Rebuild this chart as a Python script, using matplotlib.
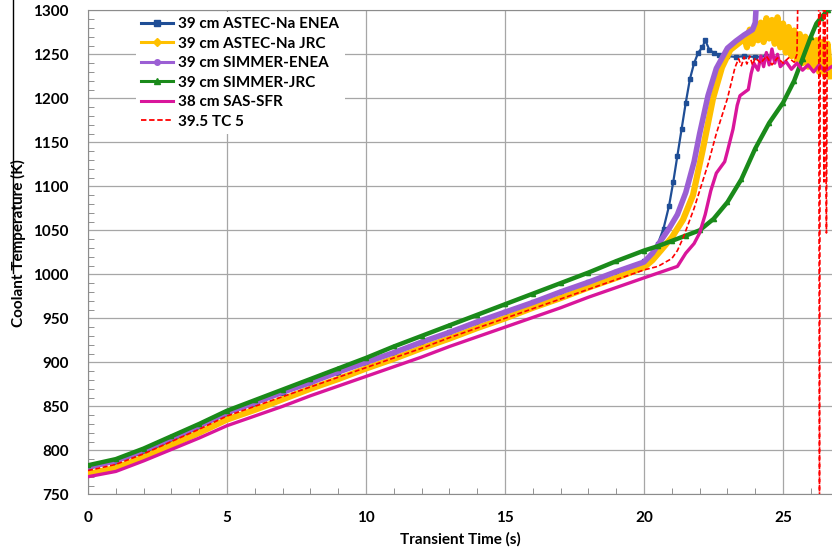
import numpy as np
import matplotlib.pyplot as plt
from matplotlib.lines import Line2D
from matplotlib.ticker import MultipleLocator

plt.rcParams['font.family'] = ['Lato', 'DejaVu Sans']
plt.rcParams['font.weight'] = 'bold'

# seconds 0..20 for the linear heat-up part
t_lin = list(range(21))

# 39 cm ASTEC-Na ENEA
t_blue = t_lin + [20.3, 20.5, 20.7, 20.9, 21.05, 21.2, 21.35, 21.5, 21.65, 21.8, 21.95,
                  22.1, 22.2, 22.35, 22.5, 22.7, 23.0, 23.3, 23.6, 24.0, 24.4]
T_blue = [781, 787, 797, 810, 826, 841, 853, 865, 876, 888, 899, 911, 922, 934, 945, 957,
          968, 980, 991, 1003, 1015,
          1022, 1035, 1052, 1078, 1105, 1135, 1165, 1195, 1222, 1240, 1252,
          1258, 1266, 1255, 1252, 1249, 1248, 1247, 1248, 1247, 1248]

# 39 cm ASTEC-Na JRC
t_yel = t_lin + [20.3, 20.6, 21.0, 21.4, 21.76, 22.1, 22.48, 22.8, 23.1, 23.5,
                 23.6, 23.7, 23.8, 23.9, 24.0, 24.1, 24.2, 24.3, 24.4, 24.5, 24.6,
                 24.7, 24.8, 24.9, 25.0, 25.1, 25.2, 25.3, 25.4, 25.5, 25.6, 25.7,
                 25.8, 25.9, 26.0, 26.1, 26.2, 26.3, 26.4, 26.5, 26.6, 26.7]
T_yel = [773, 780, 792, 806, 820, 835, 846, 858, 870, 881, 893, 904, 916, 927, 939, 950,
         962, 973, 985, 996, 1008,
         1016, 1027, 1042, 1062, 1090, 1140, 1200, 1235, 1255, 1265,
         1270, 1258, 1278, 1262, 1282, 1266, 1286, 1264, 1291, 1268, 1289,
         1262, 1292, 1258, 1285, 1252, 1281, 1248, 1277, 1244, 1273, 1240,
         1270, 1236, 1268, 1233, 1266, 1230, 1264, 1227, 1262, 1225]

# 39 cm SIMMER-ENEA
t_pur = t_lin + [20.3, 20.6, 20.9, 21.2, 21.5, 21.8, 22.0, 22.3, 22.6, 23.0, 23.3,
                 23.6, 23.9, 24.0, 24.06]
T_pur = [781, 788, 800, 814, 828, 843, 854, 866, 877, 889, 900, 911, 923, 934, 946, 957,
         968, 980, 991, 1003, 1014,
         1024, 1038, 1052, 1068, 1093, 1128, 1160, 1203, 1234, 1257, 1265,
         1272, 1278, 1286, 1320]

# 39 cm SIMMER-JRC
t_grn = t_lin + [20.5, 21.0, 21.5, 22.0, 22.5, 23.0, 23.5, 24.0, 24.5, 25.0, 25.4,
                 25.7, 26.0, 26.2, 26.35, 26.6, 26.75]
T_grn = [783, 790, 802, 816, 830, 845, 857, 869, 881, 893, 905, 918, 930, 942, 954, 966,
         978, 990, 1002, 1015, 1027,
         1032, 1038, 1044, 1050, 1063, 1082, 1108, 1143, 1172, 1195, 1220,
         1245, 1270, 1285, 1291, 1300, 1305]

# 38 cm SAS-SFR
t_pnk = t_lin + [21.2, 21.5, 21.8, 22.0, 22.2, 22.4, 22.6, 22.9, 23.0, 23.2, 23.35,
                 23.45, 23.75, 23.85, 23.95, 24.1, 24.2, 24.3, 24.4, 24.5, 24.6, 24.7,
                 24.8, 24.9, 25.1, 25.3, 25.5, 25.7, 25.9, 26.1, 26.3, 26.5, 26.75]
T_pnk = [770, 776, 788, 801, 814, 828, 839, 850, 862, 873, 884, 895, 906, 918, 929, 940,
         951, 962, 974, 985, 996,
         1009, 1024, 1035, 1047, 1068, 1095, 1115, 1128, 1140, 1165, 1192,
         1203, 1210, 1228, 1240, 1232, 1248, 1236, 1252, 1238, 1256, 1240,
         1250, 1236, 1242, 1233, 1240, 1232, 1238, 1230, 1238, 1231, 1236]

# 39.5 TC 5 (experiment)
t_red = t_lin + [20.5, 21.0, 21.2, 21.4, 21.8, 22.0, 22.3, 22.6, 23.0, 23.27, 23.4,
                 23.5, 23.6, 23.7, 23.8, 23.9, 24.0, 24.2, 24.4, 24.6, 24.8, 25.0,
                 25.2, 25.4, 25.5, 25.55, 26.28, 26.31, 26.34, 26.44, 26.47, 26.5,
                 26.56, 26.6, 26.75]
T_red = [777, 784, 796, 810, 824, 839, 850, 861, 872, 883, 894, 905, 916, 928, 939, 950,
         961, 972, 983, 994, 1005,
         1009, 1018, 1027, 1041, 1075, 1095, 1125, 1160, 1200, 1235, 1245,
         1237, 1247, 1239, 1248, 1238, 1246, 1240, 1248, 1238, 1246, 1240,
         1246, 1241, 1250, 1350, 1350, 740, 1350, 1350, 1105, 1350,
         1047, 1350, 1350]

labels = ['39 cm ASTEC-Na ENEA', '39 cm ASTEC-Na JRC', '39 cm SIMMER-ENEA',
          '39 cm SIMMER-JRC', '38 cm SAS-SFR', '39.5 TC 5']
colors = ['#1f4e96', '#ffc000', '#9b5fd4', '#1a8a1a', '#d9169b', '#ff0000']

fig = plt.figure(figsize=(8.32, 5.49), dpi=100)
ax = fig.add_axes([0.1058, 0.0996, 0.8942, 0.8816])

ax.plot(t_blue, T_blue, color=colors[0], lw=1.6, marker='s', ms=3.5, zorder=3)
ax.plot(t_yel, T_yel, color=colors[1], lw=4.5, solid_joinstyle='round', zorder=3)
ax.plot(t_pur, T_pur, color=colors[2], lw=4.0, zorder=3)
ax.plot(t_grn, T_grn, color=colors[3], lw=3.2, marker='^', ms=3, zorder=3)
ax.plot(t_pnk, T_pnk, color=colors[4], lw=2.4, zorder=3)
ax.plot(t_red, T_red, color=colors[5], lw=1.2, ls=(0, (3, 1.5)), zorder=3)

ax.set_xlim(0, 26.76)
ax.set_ylim(750, 1300)
ax.xaxis.set_major_locator(MultipleLocator(5))
ax.xaxis.set_minor_locator(MultipleLocator(1))
ax.yaxis.set_major_locator(MultipleLocator(50))
ax.yaxis.set_minor_locator(MultipleLocator(10))
ax.grid(True, which='major', color='#a6a6a6', lw=0.9)
ax.set_axisbelow(True)
ax.tick_params(which='both', direction='in', color='#808080', labelsize=11)
ax.tick_params(which='major', length=0)
ax.tick_params(which='minor', length=4)
ax.tick_params(axis='y', pad=14)
ax.tick_params(axis='x', pad=12)
for s in ['left', 'bottom', 'top']:
    ax.spines[s].set_color('#8c8c8c')
ax.spines['right'].set_visible(False)

ax.set_xlabel('Transient Time (s)', fontsize=11, fontweight='bold', labelpad=5)
ax.set_ylabel('Coolant Temperature (K)', fontsize=11, fontweight='bold')
ax.yaxis.set_label_coords(-0.083, 0.52)

handles = [
    Line2D([], [], color=colors[0], lw=2.2, marker='s', ms=4),
    Line2D([], [], color=colors[1], lw=2.2, marker='D', ms=4),
    Line2D([], [], color=colors[2], lw=2.2, marker='o', ms=4),
    Line2D([], [], color=colors[3], lw=2.2, marker='^', ms=4),
    Line2D([], [], color=colors[4], lw=2.2),
    Line2D([], [], color=colors[5], lw=1.3, ls=(0, (3, 1.5))),
]
leg = ax.legend(handles, labels, loc='upper left', bbox_to_anchor=(0.062, 1.0),
                fontsize=11, frameon=True, facecolor='white', edgecolor='none',
                framealpha=1, handlelength=2.1, handletextpad=0.35,
                labelspacing=0.36, borderpad=0.35, borderaxespad=0.1)
leg.set_zorder(5)

# stray vertical rule at the left border of the original picture
fig.lines.append(Line2D([13 / 832, 13 / 832], [1.0, 1 - 273 / 549], color='black',
                        lw=1.0, transform=fig.transFigure, figure=fig))

fig.savefig('out.png', dpi=100)
